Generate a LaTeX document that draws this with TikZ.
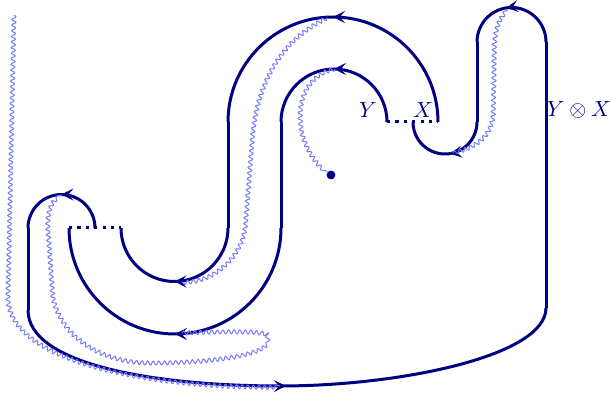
\documentclass[tikz,border=0pt]{standalone}
\usetikzlibrary{decorations.pathmorphing,decorations.markings,arrows.meta}
\definecolor{navy}{RGB}{0,0,130}
\definecolor{wave}{RGB}{120,120,255}
\tikzset{
  str/.style={navy,line width=1.5pt},
  dots/.style={navy,line width=1.5pt,dash pattern=on 1.6pt off 2.6pt},
  wav/.style={wave,line width=0.5pt,decorate,decoration={snake,amplitude=1pt,segment length=2.8pt}},
  arr/.style={postaction={decorate,decoration={markings,mark=at position #1 with {\arrow{Stealth[length=6pt,width=6pt,inset=2.6pt]}}}}},
  lab/.style={navy,font=\fontsize{11}{13}\selectfont}
}
\begin{document}
\begin{tikzpicture}[x=0.5pt,y=0.5pt]
\useasboundingbox (0,0) rectangle (611,396);
% named points
\coordinate (Xe) at (438,274);
\coordinate (Ye) at (387,274);
\coordinate (L1) at (228,274);
\coordinate (L1b) at (228,168);
\coordinate (E1) at (121,168);
\coordinate (L2) at (281,274);
\coordinate (L2b) at (281,168);
\coordinate (E2) at (69,168);
\coordinate (S3) at (95,168);
\coordinate (P1) at (28,168);
\coordinate (P2) at (28,86);
\coordinate (B) at (280,10);
\coordinate (P3) at (546,88);
\coordinate (P4) at (546,354);
\coordinate (P5) at (477,354);
\coordinate (P6) at (477,274);
\coordinate (E3) at (413,274);
% curve 1
\draw[str,arr=0.5] (Xe) arc[start angle=0,end angle=180,radius=105];
\draw[str] (L1) -- (L1b);
\draw[str,arr=0.5] (L1b) arc[start angle=0,end angle=-180,radius=53.5];
% curve 2
\draw[str,arr=0.5] (Ye) arc[start angle=0,end angle=180,radius=53];
\draw[str] (L2) -- (L2b);
\draw[str,arr=0.5] (L2b) arc[start angle=0,end angle=-180,radius=106];
% dotted joins
\draw[dots] (E2) -- (E1);
\draw[dots] (Ye) -- (Xe);
% curve 3
\draw[str,arr=0.5] (S3) arc[start angle=0,end angle=180,radius=33.5];
\draw[str] (P1) -- (P2);
\draw[str] (P2) .. controls (28,30) and (160,10) .. (B);
\draw[str,arr=0.02] (B) .. controls (400,10) and (546,40) .. (P3);
\draw[str] (P3) -- (P4);
\draw[str,arr=0.55] (P4) arc[start angle=0,end angle=180,radius=34.5];
\draw[str] (P5) -- (P6);
\draw[str,arr=0.45] (P6) arc[start angle=0,end angle=-180,radius=32];
% dot
\node[circle,fill=navy,inner sep=0pt,minimum size=4.4pt] (dot) at (331,221) {};
% wavy lines
\draw[wav] (14,381) -- (8,100) .. controls (8,35) and (150,9) .. (B);
\draw[wav] (327,378) .. controls (280,355) and (256,310) .. (253,250) -- (247,175) .. controls (246,145) and (220,114) .. (182,114);
\draw[wav] (335,327) .. controls (305,320) and (298,290) .. (303,265) .. controls (307,245) and (320,230) .. (dot);
\draw[wav] (453,243) .. controls (475,248) and (492,260) .. (492,285) -- (493,350) .. controls (494,370) and (500,382) .. (508,386);
\draw[wav] (182,63) .. controls (220,64) and (265,66) .. (267,60) -- (267,54) .. controls (260,40) and (200,34) .. (150,34) .. controls (100,34) and (60,60) .. (52,100) -- (47,170) .. controls (47,190) and (52,199) .. (62,201);
% labels
\node[lab] (ly) at (368,286) {$Y$};
\node[lab] (lx) at (423,286) {$X$};
\node[lab] (lyx) at (579,286) {$Y\otimes X$};
\end{tikzpicture}
\end{document}
